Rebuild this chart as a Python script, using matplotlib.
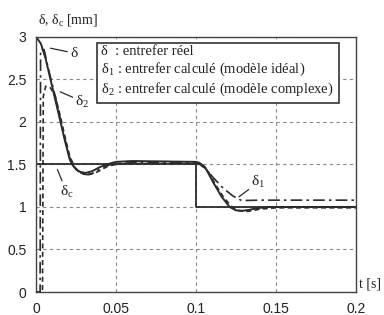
import matplotlib
matplotlib.use('Agg')
import matplotlib.pyplot as plt

# delta : real air gap (solid)
t_d = [0, 0.003, 0.006, 0.009, 0.012, 0.015, 0.018, 0.021, 0.0225, 0.025, 0.028, 0.031,
       0.035, 0.04, 0.044, 0.05, 0.06, 0.08, 0.1, 0.102, 0.1056, 0.111, 0.116, 0.121,
       0.125, 0.129, 0.133, 0.138, 0.145, 0.16, 0.2]
v_d = [3.0, 2.92, 2.74, 2.5, 2.26, 2.02, 1.78, 1.56, 1.5, 1.44, 1.41, 1.40,
       1.42, 1.47, 1.50, 1.53, 1.54, 1.535, 1.53, 1.52, 1.47, 1.28, 1.12, 1.0,
       0.96, 0.955, 0.965, 0.985, 1.0, 1.0, 1.0]

# delta_1 : ideal model (dash-dot)
t_d1 = [0, 0.0025, 0.0028, 0.005, 0.008, 0.012, 0.015, 0.018, 0.021, 0.024, 0.028,
        0.032, 0.036, 0.04, 0.045, 0.05, 0.06, 0.08, 0.1, 0.1016, 0.106, 0.111, 0.117,
        0.123, 0.1285, 0.14, 0.16, 0.2]
v_d1 = [0, 0, 2.85, 2.85, 2.6, 2.3, 2.05, 1.8, 1.58, 1.46, 1.39,
        1.38, 1.40, 1.45, 1.49, 1.51, 1.52, 1.52, 1.52, 1.51, 1.45, 1.34, 1.22,
        1.13, 1.075, 1.08, 1.08, 1.08]

# delta_2 : complex model (dashed)
t_d2 = [0, 0.004, 0.0045, 0.006, 0.009, 0.012, 0.015, 0.018, 0.021, 0.024, 0.028,
        0.033, 0.037, 0.041, 0.045, 0.05, 0.06, 0.08, 0.1, 0.102, 0.107, 0.112, 0.117,
        0.122, 0.126, 0.1306, 0.135, 0.14, 0.15, 0.2]
v_d2 = [0, 0, 2.3, 2.42, 2.4, 2.3, 2.08, 1.83, 1.6, 1.47, 1.40,
        1.38, 1.40, 1.44, 1.48, 1.50, 1.51, 1.51, 1.51, 1.50, 1.44, 1.27, 1.12,
        1.01, 0.96, 0.945, 0.955, 0.975, 0.99, 0.99]

# delta_c : reference (step)
t_c = [0, 0.1, 0.1, 0.2]
v_c = [1.5, 1.5, 1.0, 1.0]

xticks = [0, 0.05, 0.1, 0.15, 0.2]
xtick_labels = ['0', '0.05', '0.1', '0.15', '0.2']
yticks = [0, 0.5, 1, 1.5, 2, 2.5, 3]
ytick_labels = ['0', '0.5', '1', '1.5', '2', '2.5', '3']

legend_lines = ['δ  : entrefer réel',
                'δ$_1$ : entrefer calculé (modèle idéal)',
                'δ$_2$ : entrefer calculé (modèle complexe)']

col = '#2b2b2b'
serif = 'Liberation Serif'
plt.rcParams['mathtext.fontset'] = 'custom'
plt.rcParams['mathtext.rm'] = serif
plt.rcParams['mathtext.it'] = serif

fig = plt.figure(figsize=(3.84, 3.15), dpi=100)
ax = fig.add_axes([0.094, 0.073, 0.833, 0.81])

ax.plot(t_c, v_c, color=col, lw=1.3)
ax.plot(t_d, v_d, color=col, lw=1.4)
ax.plot(t_d1, v_d1, color=col, lw=1.2, linestyle=(0, (7, 2.5, 1.5, 2.5)))
ax.plot(t_d2, v_d2, color=col, lw=1.2, linestyle=(0, (3, 2)))

ax.set_xlim(0, 0.2)
ax.set_ylim(0, 3)
ax.set_xticks(xticks)
ax.set_xticklabels(xtick_labels)
ax.set_yticks(yticks)
ax.set_yticklabels(ytick_labels)
ax.tick_params(length=0, pad=7, labelsize=10, colors='#222222')
for lab in ax.get_xticklabels() + ax.get_yticklabels():
    lab.set_fontfamily('Liberation Sans')
ax.grid(True, color='#888888', linestyle=(0, (3, 3)), lw=0.8)
for s in ax.spines.values():
    s.set_color('#444444')
    s.set_linewidth(1.0)

# axis labels
fig.text(0.10, 0.935, 'δ, δ$_\\mathrm{c}$ [mm]', fontsize=10, family=serif,
         ha='left', va='center', color='#222222')
fig.text(0.935, 0.10, 't [s]', fontsize=10, family=serif,
         ha='left', va='center', color='#222222')

# legend box (text only)
ax.text(0.0408, 2.9, '\n'.join(legend_lines), fontsize=10.5, family=serif,
        ha='left', va='top', linespacing=1.2, color='#222222', zorder=5,
        bbox=dict(boxstyle='square,pad=0.33', fc='white', ec='#333333', lw=1.2))

# curve labels with leader lines
ax.annotate('δ', xy=(0.0056, 2.88), xytext=(0.0235, 2.81), fontsize=11, family=serif,
            ha='center', va='center', color='#222222',
            arrowprops=dict(arrowstyle='-', color=col, lw=0.9, shrinkA=0, shrinkB=4))
ax.annotate('δ$_2$', xy=(0.0119, 2.38), xytext=(0.029, 2.24), fontsize=11, family=serif,
            ha='center', va='center', color='#222222',
            arrowprops=dict(arrowstyle='-', color=col, lw=0.9, shrinkA=0, shrinkB=4))
ax.annotate('δ$_\\mathrm{c}$', xy=(0.012, 1.5), xytext=(0.019, 1.18), fontsize=11, family=serif,
            ha='center', va='center', color='#222222',
            arrowprops=dict(arrowstyle='-', color=col, lw=0.9, shrinkA=0, shrinkB=4))
ax.annotate('δ$_1$', xy=(0.124, 1.08), xytext=(0.139, 1.29), fontsize=11, family=serif,
            ha='center', va='center', color='#222222',
            arrowprops=dict(arrowstyle='-', color=col, lw=0.9, shrinkA=0, shrinkB=4))

fig.savefig('out.png', dpi=100)
